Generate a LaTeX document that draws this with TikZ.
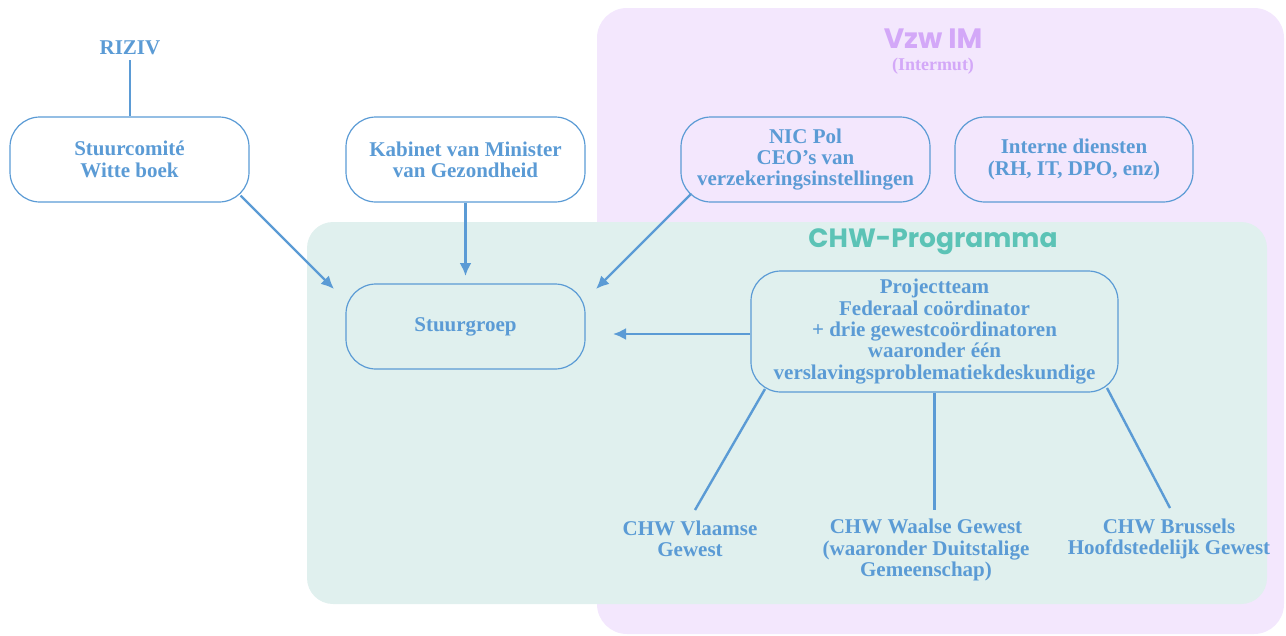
\documentclass[tikz,border=0pt]{standalone}
\usepackage{fontspec}
\setmainfont{Liberation Serif}
\newfontfamily\titlefont{Poppins}
\usetikzlibrary{arrows.meta}
\definecolor{lav}{HTML}{F3E7FD}
\definecolor{lavtext}{HTML}{D3A8F8}
\definecolor{tealbg}{HTML}{E0F0EE}
\definecolor{tealtext}{HTML}{5CC3B6}
\definecolor{blu}{HTML}{5B9BD5}
\tikzset{
  box/.style={draw=blu, line width=1.2pt, rounded corners=30pt, align=center,
    font=\fontsize{21}{21.3}\selectfont\bfseries, text=blu, inner sep=0pt},
  lbl/.style={align=center, font=\fontsize{21}{21.5}\selectfont\bfseries, text=blu, inner sep=0pt},
  conn/.style={draw=blu, line width=2.4pt},
  arr/.style={conn, -{Latex[length=13pt,width=12pt]}},
}
\begin{document}
\begin{tikzpicture}[x=1pt,y=-1pt]
\useasboundingbox (0,0) rectangle (1286,635);
% regions
\fill[lav, rounded corners=30pt] (597,8) rectangle (1284,634);
\fill[tealbg, rounded corners=26pt] (307,222) rectangle (1267,604);
\node[text=lavtext, inner sep=0pt, font=\titlefont\fontsize{28}{30}\selectfont\bfseries] (vzw) at (933,39) {Vzw IM};
\node[text=lavtext, inner sep=0pt, font=\fontsize{18}{20}\selectfont\bfseries] (intermut) at (933,66) {(Intermut)};
\node[text=tealtext, inner sep=0pt, font=\titlefont\fontsize{26.5}{30}\selectfont\bfseries] (chw) at (933,242) {CHW-Programma};
% nodes
\node[lbl] (riziv) at (130,48) {RIZIV};
\node[box, minimum width=239pt, minimum height=85pt] (stc) at (129.5,159.5) {Stuurcomité\\Witte boek};
\node[box, minimum width=239pt, minimum height=85pt] (kab) at (465.5,159.5) {Kabinet van Minister\\van Gezondheid};
\node[box, minimum width=249pt, minimum height=85pt] (nic) at (805.5,159.5) {NIC Pol\\CEO’s van\\verzekeringsinstellingen};
\node[box, minimum width=238pt, minimum height=85pt] (int) at (1074,159.5) {Interne diensten\\(RH, IT, DPO, enz)};
\node[box, minimum width=239pt, minimum height=85pt] (stg) at (465.5,326.5) {Stuurgroep};
\node[box, minimum width=367pt, minimum height=121pt] (pt) at (934.5,331.5) {Projectteam\\Federaal coördinator\\+ drie gewestcoördinatoren\\waaronder één\\verslavingsproblematiekdeskundige};
\node[lbl] (vl) at (690,539) {CHW Vlaamse\\Gewest};
\node[lbl] (wa) at (926,550) {CHW Waalse Gewest\\(waaronder Duitstalige\\Gemeenschap)};
\node[lbl] (br) at (1169,539) {CHW Brussels\\Hoofdstedelijk Gewest};
% connectors
\coordinate (rizivb) at (130,60);
\draw[conn] (rizivb) -- (stc.north -| rizivb);
\coordinate (a1e) at (334,289);
\draw[arr] (stc.south east) ++(-9,-7) -- (a1e);
\coordinate (a2e) at (465.5,276);
\draw[arr] (kab.south) -- (a2e);
\coordinate (a3e) at (596,289);
\draw[arr] (nic.south west) ++(11,-9) -- (a3e);
\coordinate (a4e) at (613,334);
\draw[arr] (pt.west |- a4e) -- (a4e);
\coordinate (l1s) at (765,389); \coordinate (l1e) at (695,510);
\coordinate (l2e) at (934.5,510);
\coordinate (l3s) at (1107,388); \coordinate (l3e) at (1170,508);
\draw[conn] (l1s) -- (l1e);
\draw[conn] (pt.south) -- (l2e);
\draw[conn] (l3s) -- (l3e);
\end{tikzpicture}
\end{document}
